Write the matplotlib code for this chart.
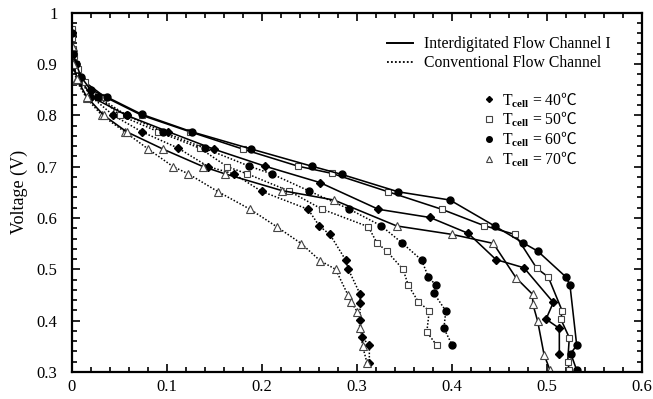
import numpy as np
import matplotlib
matplotlib.use("Agg")
import matplotlib.pyplot as plt
from matplotlib.lines import Line2D
from matplotlib.ticker import MultipleLocator, FuncFormatter

plt.rcParams['font.family'] = ['Liberation Serif', 'Noto Sans CJK SC']
plt.rcParams['mathtext.fontset'] = 'custom'
plt.rcParams['mathtext.rm'] = 'Liberation Serif'
plt.rcParams['mathtext.bf'] = 'Liberation Serif:bold'
plt.rcParams['mathtext.sf'] = 'Noto Sans CJK SC'
plt.rcParams['mathtext.fallback'] = 'stix'

# current density (A/cm2) and voltage (V)
# interdigitated flow channel I (solid lines)
idg40_i = [0.0, 0.002, 0.005, 0.010, 0.021, 0.058, 0.102, 0.150, 0.2036, 0.2616, 0.323,
           0.3774, 0.4177, 0.4468, 0.4763, 0.5072, 0.4995, 0.5135, 0.5135]
idg40_v = [0.955, 0.92, 0.895, 0.87, 0.836, 0.80, 0.768, 0.734, 0.701, 0.669, 0.617,
           0.601, 0.570, 0.519, 0.503, 0.4355, 0.403, 0.385, 0.336]

idg50_i = [0.0, 0.0, 0.003, 0.007, 0.014, 0.035, 0.074, 0.1247, 0.1808, 0.2384, 0.2739,
           0.3335, 0.3897, 0.4345, 0.4668, 0.4897, 0.5019, 0.5166, 0.515, 0.524, 0.5223, 0.524]
idg50_v = [0.968, 0.95, 0.915, 0.89, 0.865, 0.836, 0.80, 0.768, 0.734, 0.701, 0.687,
           0.651, 0.617, 0.585, 0.568, 0.502, 0.485, 0.4185, 0.403, 0.367, 0.320, 0.3035]

idg60_i = [0.0, 0.002, 0.005, 0.010, 0.020, 0.037, 0.0739, 0.1265, 0.189, 0.2528, 0.2844,
           0.344, 0.3984, 0.4458, 0.475, 0.4907, 0.5205, 0.5247, 0.5318, 0.5255, 0.5318]
idg60_v = [0.96, 0.92, 0.90, 0.875, 0.85, 0.836, 0.802, 0.768, 0.7345, 0.701, 0.685,
           0.651, 0.635, 0.584, 0.552, 0.5355, 0.485, 0.469, 0.352, 0.336, 0.3035]

idg70_i = [0.0, 0.002, 0.006, 0.016, 0.034, 0.058, 0.0966, 0.1387, 0.1616, 0.2213, 0.2763,
           0.3423, 0.4008, 0.444, 0.4679, 0.4855, 0.4855, 0.4907, 0.4974, 0.5037]
idg70_v = [0.935, 0.90, 0.87, 0.836, 0.80, 0.768, 0.734, 0.70, 0.686, 0.6535, 0.635,
           0.5845, 0.568, 0.5505, 0.4835, 0.451, 0.433, 0.399, 0.334, 0.3035]

# conventional flow channel (dotted lines)
cnv40_i = [0.0, 0.002, 0.005, 0.010, 0.021, 0.044, 0.074, 0.1124, 0.144, 0.171, 0.200,
           0.249, 0.261, 0.272, 0.2886, 0.2914, 0.3037, 0.3037, 0.3037, 0.3055, 0.3135, 0.3135]
cnv40_v = [0.955, 0.92, 0.89, 0.865, 0.836, 0.80, 0.768, 0.736, 0.70, 0.686, 0.652,
           0.617, 0.584, 0.568, 0.518, 0.50, 0.452, 0.435, 0.402, 0.368, 0.352, 0.318]

cnv50_i = [0.0, 0.002, 0.005, 0.010, 0.029, 0.051, 0.0914, 0.135, 0.164, 0.185, 0.229,
           0.2633, 0.3124, 0.3214, 0.332, 0.349, 0.3545, 0.365, 0.3766, 0.374, 0.3844]
cnv50_v = [0.965, 0.93, 0.90, 0.87, 0.836, 0.80, 0.768, 0.736, 0.70, 0.686, 0.6525,
           0.6175, 0.583, 0.552, 0.535, 0.50, 0.469, 0.437, 0.419, 0.378, 0.352]

cnv60_i = [0.0, 0.002, 0.005, 0.010, 0.028, 0.058, 0.096, 0.140, 0.187, 0.2107, 0.2503,
           0.2921, 0.3258, 0.3476, 0.3686, 0.3756, 0.3837, 0.3816, 0.394, 0.392, 0.4008]
cnv60_v = [0.96, 0.925, 0.90, 0.87, 0.836, 0.80, 0.768, 0.736, 0.701, 0.686, 0.6525,
           0.6175, 0.585, 0.552, 0.518, 0.485, 0.469, 0.453, 0.419, 0.385, 0.352]

cnv70_i = [0.0, 0.002, 0.005, 0.016, 0.032, 0.056, 0.081, 0.107, 0.123, 0.1545, 0.188,
           0.216, 0.242, 0.2616, 0.278, 0.291, 0.294, 0.301, 0.3037, 0.3065, 0.311]
cnv70_v = [0.935, 0.90, 0.868, 0.833, 0.80, 0.768, 0.734, 0.70, 0.686, 0.651, 0.617,
           0.583, 0.55, 0.517, 0.50, 0.45, 0.437, 0.417, 0.385, 0.35, 0.318]

temps = [40, 50, 60, 70]
channel_labels = ['Interdigitated Flow Channel I', 'Conventional Flow Channel']

# marker style per cell temperature
marker_style = {
    40: dict(marker='D', ms=3.8, mfc='black', mec='black'),
    50: dict(marker='s', ms=5.0, mfc='white', mec='#444444', mew=0.8),
    60: dict(marker='o', ms=5.0, mfc='black', mec='black'),
    70: dict(marker='^', ms=5.5, mfc='white', mec='#444444', mew=0.8),
}

idg = {40: (idg40_i, idg40_v), 50: (idg50_i, idg50_v),
       60: (idg60_i, idg60_v), 70: (idg70_i, idg70_v)}
cnv = {40: (cnv40_i, cnv40_v), 50: (cnv50_i, cnv50_v),
       60: (cnv60_i, cnv60_v), 70: (cnv70_i, cnv70_v)}

fig = plt.figure(figsize=(6.53, 3.99), dpi=100)
ax = fig.add_axes([0.1095, 0.0677, 0.8729, 0.9005])

for t in temps:
    x, y = cnv[t]
    ax.plot(x, y, color='black', ls=(0, (1, 1.2)), lw=1.1, **marker_style[t])
for t in temps:
    x, y = idg[t]
    ax.plot(x, y, color='black', ls='-', lw=1.15, **marker_style[t])

ax.set_xlim(0, 0.6)
ax.set_ylim(0.3, 1.0)
ax.xaxis.set_major_locator(MultipleLocator(0.1))
ax.xaxis.set_minor_locator(MultipleLocator(0.02))
ax.yaxis.set_major_locator(MultipleLocator(0.1))
ax.yaxis.set_minor_locator(MultipleLocator(0.02))
fmt = FuncFormatter(lambda v, p: f"{v:.1f}".rstrip('0').rstrip('.') if v != 0 else "0")
ax.xaxis.set_major_formatter(fmt)
ax.yaxis.set_major_formatter(fmt)
ax.tick_params(which='both', direction='in', top=True, right=True, labelsize=12, width=1.2)
ax.tick_params(which='major', length=6)
ax.tick_params(which='minor', length=3.5)
ax.tick_params(axis='y', pad=10)
ax.tick_params(axis='x', pad=5)
for s in ax.spines.values():
    s.set_linewidth(1.6)

ax.set_ylabel('Voltage (V)', fontsize=13, labelpad=6)

# legend for the flow channel types
line_handles = [Line2D([], [], color='black', ls='-', lw=1.4),
                Line2D([], [], color='black', ls=(0, (1, 1.2)), lw=1.3)]
leg1 = ax.legend(line_handles, channel_labels, loc='upper left',
                 bbox_to_anchor=(0.553, 0.935), frameon=False, fontsize=11.3,
                 handlelength=1.7, handletextpad=0.7, labelspacing=0.2,
                 borderpad=0, borderaxespad=0)
ax.add_artist(leg1)

# legend for the cell temperatures
mk_handles = [Line2D([], [], ls='none', **marker_style[t]) for t in temps]
mk_labels = [r'T$_{\mathbf{cell}}$ = %d$\mathsf{℃}$' % t for t in temps]
ax.legend(mk_handles, mk_labels, loc='upper left', bbox_to_anchor=(0.722, 0.785),
          frameon=False, fontsize=11.3, handlelength=0.8, handletextpad=0.4,
          labelspacing=0.0, borderpad=0, borderaxespad=0, markerscale=0.8)

fig.savefig('out.png', dpi=100)
